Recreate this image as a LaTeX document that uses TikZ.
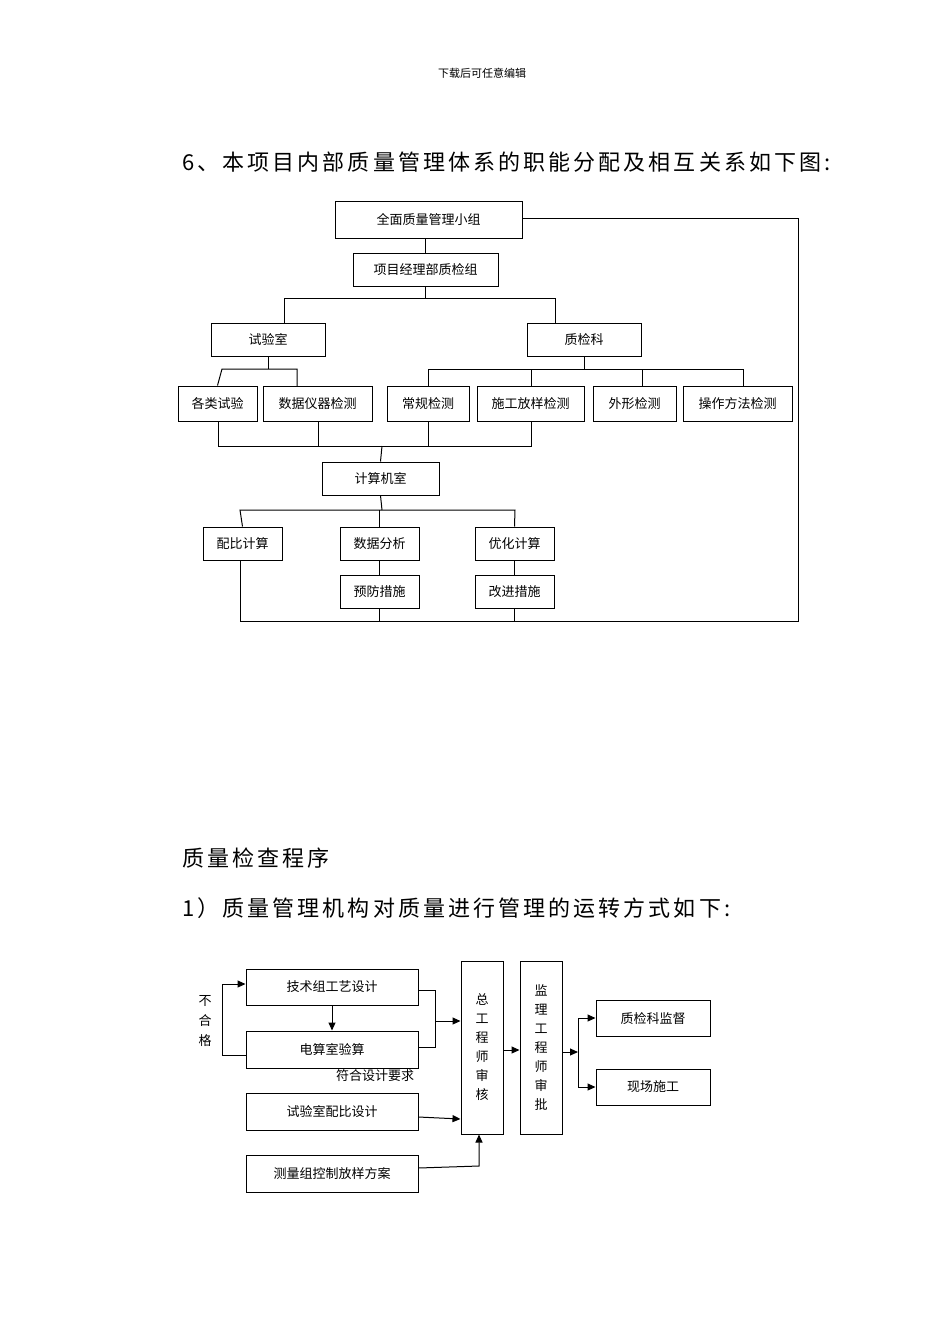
\documentclass[tikz,border=0pt]{standalone}
\usepackage{fontspec}
\setmainfont{Noto Sans CJK SC}
\usetikzlibrary{arrows.meta}
\begin{document}
\begin{tikzpicture}[x=1pt,y=-1pt,
  box/.style={draw,line width=1pt,inner sep=0pt,font=\fontsize{13}{15}\selectfont},
  ln/.style={line width=1pt},
  ar/.style={line width=1pt,-{Triangle[length=8pt,width=7pt]}},
  title/.style={anchor=west,inner sep=0pt,font=\fontsize{22}{24}\selectfont\addfontfeature{LetterSpace=14}}]
\useasboundingbox (0,0) rectangle (950,1344);
\node[inner sep=0pt,font=\fontsize{11}{12}\selectfont] (hd) at (482,73) {下载后可任意编辑};
\node[title] (tt) at (182,162) {6、本项目内部质量管理体系的职能分配及相互关系如下图:};
\node[title] (t2x) at (182,858) {质量检查程序};
\node[title] (t3x) at (182,908) {1）质量管理机构对质量进行管理的运转方式如下:};
% top chart
\node[box,minimum width=187,minimum height=37] (t1) at (428.5,219.5) {全面质量管理小组};
\node[box,minimum width=145,minimum height=33] (t2) at (425.5,269.5) {项目经理部质检组};
\node[box,minimum width=114,minimum height=33] (sy) at (268,339.5) {试验室};
\node[box,minimum width=114,minimum height=33] (zj) at (584,339.5) {质检科};
\foreach \n/\x/\w/\t in {a1/217.5/79/各类试验,a2/317.5/109/数据仪器检测,a3/428/82/常规检测,a4/530.5/107/施工放样检测,a5/634.5/83/外形检测,a6/737.5/109/操作方法检测}
  \node[box,minimum width=\w,minimum height=35] (\n) at (\x,403.5) {\t};
\node[box,minimum width=117,minimum height=33] (js) at (380.5,478.5) {计算机室};
\foreach \n/\x/\y/\t in {b1/242.5/543.5/配比计算,b2/379.5/543.5/数据分析,b3/514.5/543.5/优化计算,c1/379.5/591.5/预防措施,c2/514.5/591.5/改进措施}
  \node[box,minimum width=79,minimum height=33] (\n) at (\x,\y) {\t};
\draw[ln] (t1.south -| t2.north) -- (t2.north);
\draw[ln] (t2.south) -- (425.5,298);
\draw[ln] (284,323) -- (284,298) -- (555,298) -- (555,323);
\draw[ln] (sy.south) -- (268,369);
\draw[ln] (a1.north) -- (222,369) -- (297,369) -- (297,386);
\draw[ln] (zj.south) -- (584,369);
\draw[ln] (a3.north) -- (428,369) -- (743,369) -- (743,386);
\draw[ln] (531,369) -- (531,386);
\draw[ln] (642,369) -- (642,386);
\draw[ln] (218,421) -- (218,446) -- (531,446) -- (531,421);
\draw[ln] (318,421) -- (318,446);
\draw[ln] (428,421) -- (428,446);
\draw[ln] (382,446) -- (js.north);
\draw[ln] (js.south) -- (382,510);
\draw[ln] (b1.north) -- (240,510) -- (515,510) -- (b3.north);
\draw[ln] (b2.north) -- (b2.north |- 382,510);
\draw[ln] (b2.south) -- (c1.north);
\draw[ln] (b3.south) -- (c2.north);
\draw[ln] (240,560) -- (240,621) -- (798,621) -- (798,218) -- (t1.east |- 798,218);
\draw[ln] (c1.south) -- (c1.south |- 0,621);
\draw[ln] (c2.south) -- (c2.south |- 0,621);
% bottom chart
\node[box,minimum width=172,minimum height=36] (d1) at (332,987) {技术组工艺设计};
\node[box,minimum width=172,minimum height=37] (d2) at (332,1049.5) {电算室验算};
\node[box,minimum width=172,minimum height=37] (d3) at (332,1111.5) {试验室配比设计};
\node[box,minimum width=172,minimum height=37] (d4) at (332,1173.5) {测量组控制放样方案};
\node[box,minimum width=42,minimum height=173,align=center,font=\fontsize{13}{19}\selectfont] (zg) at (482,1047.5) {总\\工\\程\\师\\审\\核};
\node[box,minimum width=42,minimum height=173,align=center,font=\fontsize{13}{19}\selectfont] (jl) at (541,1047.5) {监\\理\\工\\程\\师\\审\\批};
\node[box,minimum width=114,minimum height=36] (q1) at (653,1018) {质检科监督};
\node[box,minimum width=114,minimum height=36] (q2) at (653,1087) {现场施工};
\node[inner sep=0pt,align=center,font=\fontsize{13}{20}\selectfont] (bh) at (205,1021) {不\\合\\格};
\node[inner sep=0pt,font=\fontsize{13}{15}\selectfont] (fh) at (375,1076) {符合设计要求};
\draw[ar] (d2.west |- 0,1055) -- (222,1055) -- (222,984) -- (d1.west |- 0,984);
\draw[ar] (d1.south) -- (d2.north);
\draw[ln] (d1.east |- 0,990) -- (435,990) -- (435,1047) -- (d2.east |- 0,1047);
\draw[ar] (435,1021) -- (zg.west |- 0,1021);
\draw[ar] (d3.east |- 0,1117) -- (zg.west |- 0,1119);
\draw[ar] (d4.east |- 0,1168) -- (479,1166) -- (zg.south -| 479,0);
\draw[ar] (zg.east |- 0,1050) -- (jl.west |- 0,1050);
\draw[ar] (jl.east |- 0,1052) -- (578,1052);
\draw[ar] (578,1052) -- (578,1018) -- (q1.west);
\draw[ar] (578,1052) -- (578,1087) -- (q2.west);
\end{tikzpicture}
\end{document}
